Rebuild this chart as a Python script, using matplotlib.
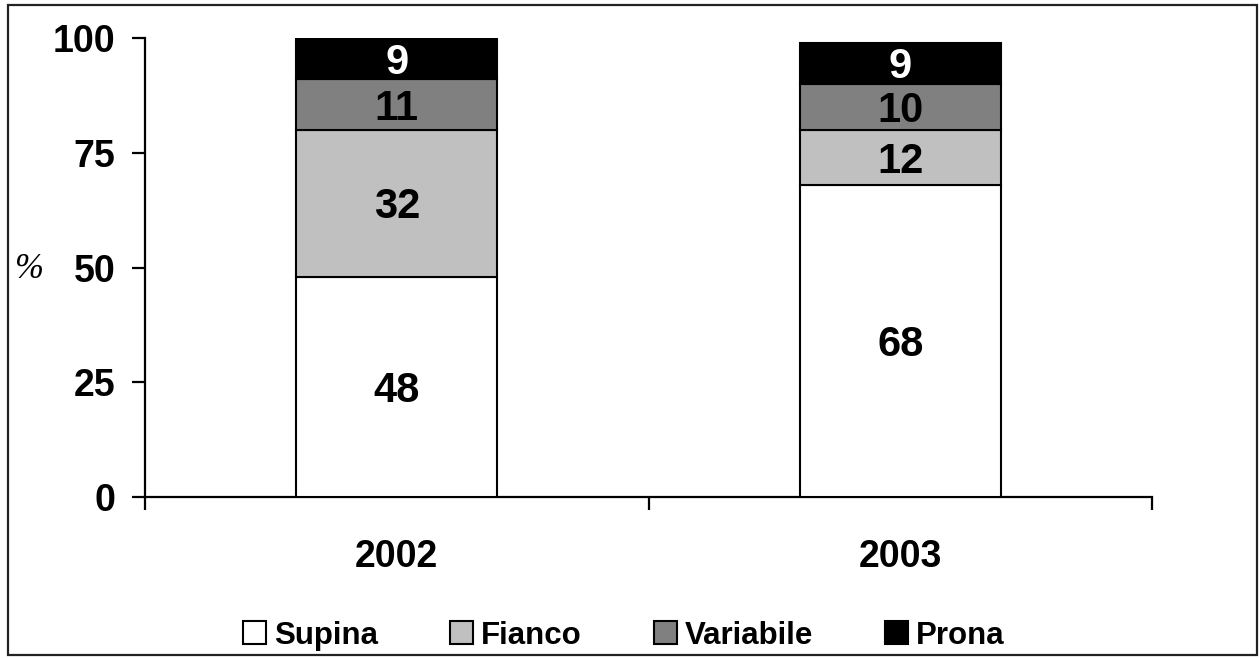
import matplotlib
matplotlib.use("Agg")
import matplotlib.pyplot as plt
from matplotlib.patches import Rectangle, Patch

# Data
years = ["2002", "2003"]
positions = ["Supina", "Fianco", "Variabile", "Prona"]
supina = [48, 68]
fianco = [32, 12]
variabile = [11, 10]
prona = [9, 9]
series = [supina, fianco, variabile, prona]
colors = ["#FFFFFF", "#C0C0C0", "#808080", "#000000"]
label_colors = ["black", "black", "black", "white"]
yticks = [0, 25, 50, 75, 100]

plt.rcParams["font.family"] = ["Liberation Sans", "DejaVu Sans"]
plt.rcParams["font.weight"] = "bold"

fig = plt.figure(figsize=(12.6, 6.58), dpi=100)
ax = fig.add_axes([0.1151, 0.2447, 0.7992, 0.6975])

x = list(range(len(years)))
bottoms = [0] * len(years)
for vals, col, lc, name in zip(series, colors, label_colors, positions):
    ax.bar(x, vals, width=0.40, bottom=bottoms, color=col,
           edgecolor="black", linewidth=1.5, label=name, zorder=3)
    for xi, v, b in zip(x, vals, bottoms):
        ax.annotate(str(v), (xi, b + v / 2), xytext=(0, -3),
                    textcoords="offset points", ha="center", va="center",
                    fontsize=30, fontweight="bold", color=lc, zorder=4)
    bottoms = [b + v for b, v in zip(bottoms, vals)]

ax.set_xlim(-0.5, 1.5)
ax.set_ylim(0, 100)

# Axes styling: only left and bottom spines
for s in ["top", "right"]:
    ax.spines[s].set_visible(False)
for s in ["left", "bottom"]:
    ax.spines[s].set_linewidth(1.6)

ax.set_yticks(yticks)
ax.set_yticklabels([str(t) for t in yticks], fontsize=27, fontweight="bold")
ax.tick_params(axis="y", direction="out", length=9.5, width=1.6, pad=12)

# Major x ticks at category boundaries, labels at bar centers
ax.set_xticks([-0.5, 0.5, 1.5])
ax.set_xticklabels(["", "", ""])
ax.tick_params(axis="x", which="major", direction="out", length=9, width=1.6)
ax.set_xticks(x, minor=True)
ax.set_xticklabels(years, minor=True, fontsize=27, fontweight="bold")
ax.tick_params(axis="x", which="minor", length=0, pad=30)

fig.text(0.023, 0.590, "%", fontsize=25, family=["Liberation Serif", "DejaVu Serif"],
         fontweight="normal", style="italic", ha="center", va="center")

handles = [Patch(facecolor=c, edgecolor="black", linewidth=1.5) for c in colors]
fig.legend(handles, positions, loc="center", bbox_to_anchor=(0.495, 0.034),
           ncol=4, frameon=False, handlelength=0.75, handleheight=0.75,
           handletextpad=0.25, columnspacing=2.3,
           prop={"weight": "bold", "size": 22.5})

# Outer border
fig.patches.append(Rectangle((0.0063, 0.0046), 0.9913, 0.9878, transform=fig.transFigure,
                             fill=False, edgecolor="#222222", linewidth=1.6))

fig.savefig("out.png", dpi=100)
